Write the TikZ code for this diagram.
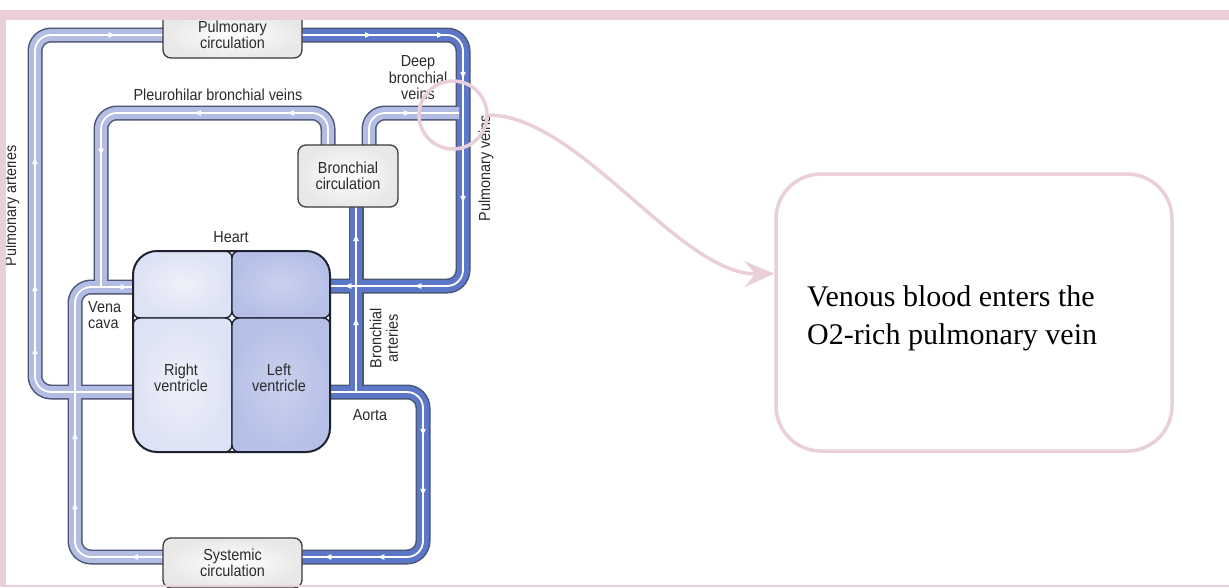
\documentclass[tikz,border=0pt]{standalone}
\usepackage{fontspec}
\usetikzlibrary{arrows.meta,decorations.markings}
\newfontfamily\diafont[FakeStretch=0.9]{Liberation Sans}
\newfontfamily\calfont{Liberation Serif}
\definecolor{pinkc}{HTML}{EACFDA}
\definecolor{tubeout}{HTML}{4A5675}
\definecolor{tubelt}{HTML}{B3BDE4}
\definecolor{tubedk}{HTML}{5C77C8}
\definecolor{boxline}{HTML}{3A3A3A}
\definecolor{labc}{HTML}{2B2B2B}
\definecolor{heartline}{HTML}{1E2230}
\definecolor{lightIn}{HTML}{EFF1FA}
\definecolor{lightOut}{HTML}{DDE2F4}
\definecolor{darkIn}{HTML}{CAD1EE}
\definecolor{darkOut}{HTML}{B6C0E7}
\newcommand\flowtip{\arrow{Latex[length=8pt,width=6pt]}}
\newcommand\tubes[1]{%
  % pulmonary arteries
  \draw[#1=lt, decoration={markings,
     mark=at position 144pt with {\flowtip}, mark=at position 207pt with {\flowtip},
     mark=at position 334pt with {\flowtip}, mark=at position 530pt with {\flowtip}}]
     (140,392) -- (35,392) -- (35,35) -- (232,35);
  % vena cava
  \draw[#1=lt, decoration={markings,
     mark=at position 40pt with {\flowtip}, mark=at position 144pt with {\flowtip},
     mark=at position 214pt with {\flowtip}, mark=at position 405pt with {\flowtip}}]
     (170,557) -- (75,557) -- (75,287) -- (140,287);
  % pleurohilar bronchial veins
  \draw[#1=lt, decoration={markings,
     mark=at position 92pt with {\flowtip}, mark=at position 185pt with {\flowtip},
     mark=at position 314pt with {\flowtip}}]
     (328,170) -- (328,113) -- (101,113) -- (101,287);
  % pulmonary veins
  \draw[#1=dk, decoration={markings,
     mark=at position 78pt with {\flowtip}, mark=at position 150pt with {\flowtip},
     mark=at position 206pt with {\flowtip}, mark=at position 330pt with {\flowtip},
     mark=at position 455pt with {\flowtip}, mark=at position 525pt with {\flowtip}}]
     (295,35) -- (463,35) -- (463,286) -- (323,286);
  % aorta
  \draw[#1=dk, decoration={markings,
     mark=at position 138pt with {\flowtip}, mark=at position 198pt with {\flowtip},
     mark=at position 298pt with {\flowtip}, mark=at position 351pt with {\flowtip}}]
     (323,392) -- (423,392) -- (423,557) -- (232,557);
  % bronchial arteries
  \draw[#1=dk, decoration={markings,
     mark=at position 75pt with {\flowtip}, mark=at position 159pt with {\flowtip}}]
     (356,392) -- (356,176);
  % deep bronchial veins
  \draw[#1=lt, decoration={markings,
     mark=at position 93pt with {\flowtip}}]
     (369,170) -- (369,113) -- (459,113);
}
\begin{document}
\begin{tikzpicture}[x=1pt,y=-1pt,
  tubeO/.style={draw=tubeout,line width=15pt,rounded corners=16pt},
  tubeF/.style={draw=tube#1,line width=12pt,rounded corners=16pt},
  tubeW/.style={draw=white,line width=1.8pt,rounded corners=16pt,postaction=decorate},
  lbl/.style={font={\diafont\fontsize{16}{16.5}\selectfont},text=labc,align=center,inner sep=0pt},
  cbox/.style={draw=boxline,line width=1.3pt,rounded corners=8pt,inner color=white,outer color=black!9,
     align=center,inner sep=0pt,text=labc,font={\diafont\fontsize{16}{16.5}\selectfont}},
  chamber/.style={draw=heartline,line width=1.4pt,rounded corners=7pt}]
\useasboundingbox (0,0) rectangle (1229,587);
\fill[white] (0,0) rectangle (1229,587);

% tubes in layers
\tubes{tubeO}
\tubes{tubeF}
\tubes{tubeW}

% heart
\node[minimum width=197pt,minimum height=201pt,inner sep=0pt] (heart) at (231.5,351.5) {};
\begin{scope}
\clip[rounded corners=24pt] (133,251) rectangle (330,452);
\draw[chamber,inner color=lightIn,outer color=lightOut] (133,251) rectangle (232,318);
\draw[chamber,inner color=darkIn,outer color=darkOut] (232,251) rectangle (330,318);
\draw[chamber,inner color=lightIn,outer color=lightOut] (133,318) rectangle (232,452);
\draw[chamber,inner color=darkIn,outer color=darkOut] (232,318) rectangle (330,452);
\end{scope}
\draw[heartline,line width=2pt,rounded corners=24pt] (133,251) rectangle (330,452);

% boxes
\node[cbox,minimum width=139pt,minimum height=46pt] (pulm) at (232.5,35) {Pulmonary\\circulation};
\node[cbox,minimum width=139pt,minimum height=50pt] (sys) at (232.5,563) {Systemic\\circulation};
\node[cbox,minimum width=100pt,minimum height=62pt] (bron) at (348,176) {Bronchial\\circulation};

% labels
\node[lbl] (lheart) at (231,237) {Heart};
\node[lbl] (lrv) at (181,378) {Right\\ventricle};
\node[lbl] (llv) at (279,378) {Left\\ventricle};
\node[lbl,align=left,anchor=west] (lvc) at (88,315) {Vena\\cava};
\node[lbl] (lpleu) at (218,95) {Pleurohilar bronchial veins};
\node[lbl] (ldeep) at (418,78) {Deep\\bronchial\\veins};
\node[lbl] (laorta) at (370,415) {Aorta};
\node[lbl,rotate=90] (lba) at (384,338) {Bronchial\\arteries};
\node[lbl,rotate=90] (lpv) at (486,168) {Pulmonary veins};
\node[lbl,rotate=90] (lpa) at (12,206) {Pulmonary arteries};

% frame
\fill[pinkc] (0,10) rectangle (1229,20);
\fill[pinkc] (0,20) rectangle (6,587);
\fill[pinkc] (0,584.5) rectangle (1229,587);

% callout
\node[draw=pinkc,line width=3.5pt,circle,minimum size=68pt,inner sep=0pt] (ring) at (453,115) {};
\node[draw=pinkc,line width=3.5pt,rounded corners=45pt,minimum width=396pt,minimum height=277pt,
      inner sep=0pt] (note) at (974,312.5) {};
\node[anchor=west,align=left,inner sep=0pt,font={\calfont\fontsize{30}{38}\selectfont}]
      (notetext) at (807,318) {Venous blood enters the\\O2-rich pulmonary vein};
\draw[pinkc,line width=3.5pt,-{Stealth[length=30pt,width=26pt,inset=11pt]}]
      (ring.east) .. controls (580,116) and (680,275) .. (note.169);
\end{tikzpicture}
\end{document}
